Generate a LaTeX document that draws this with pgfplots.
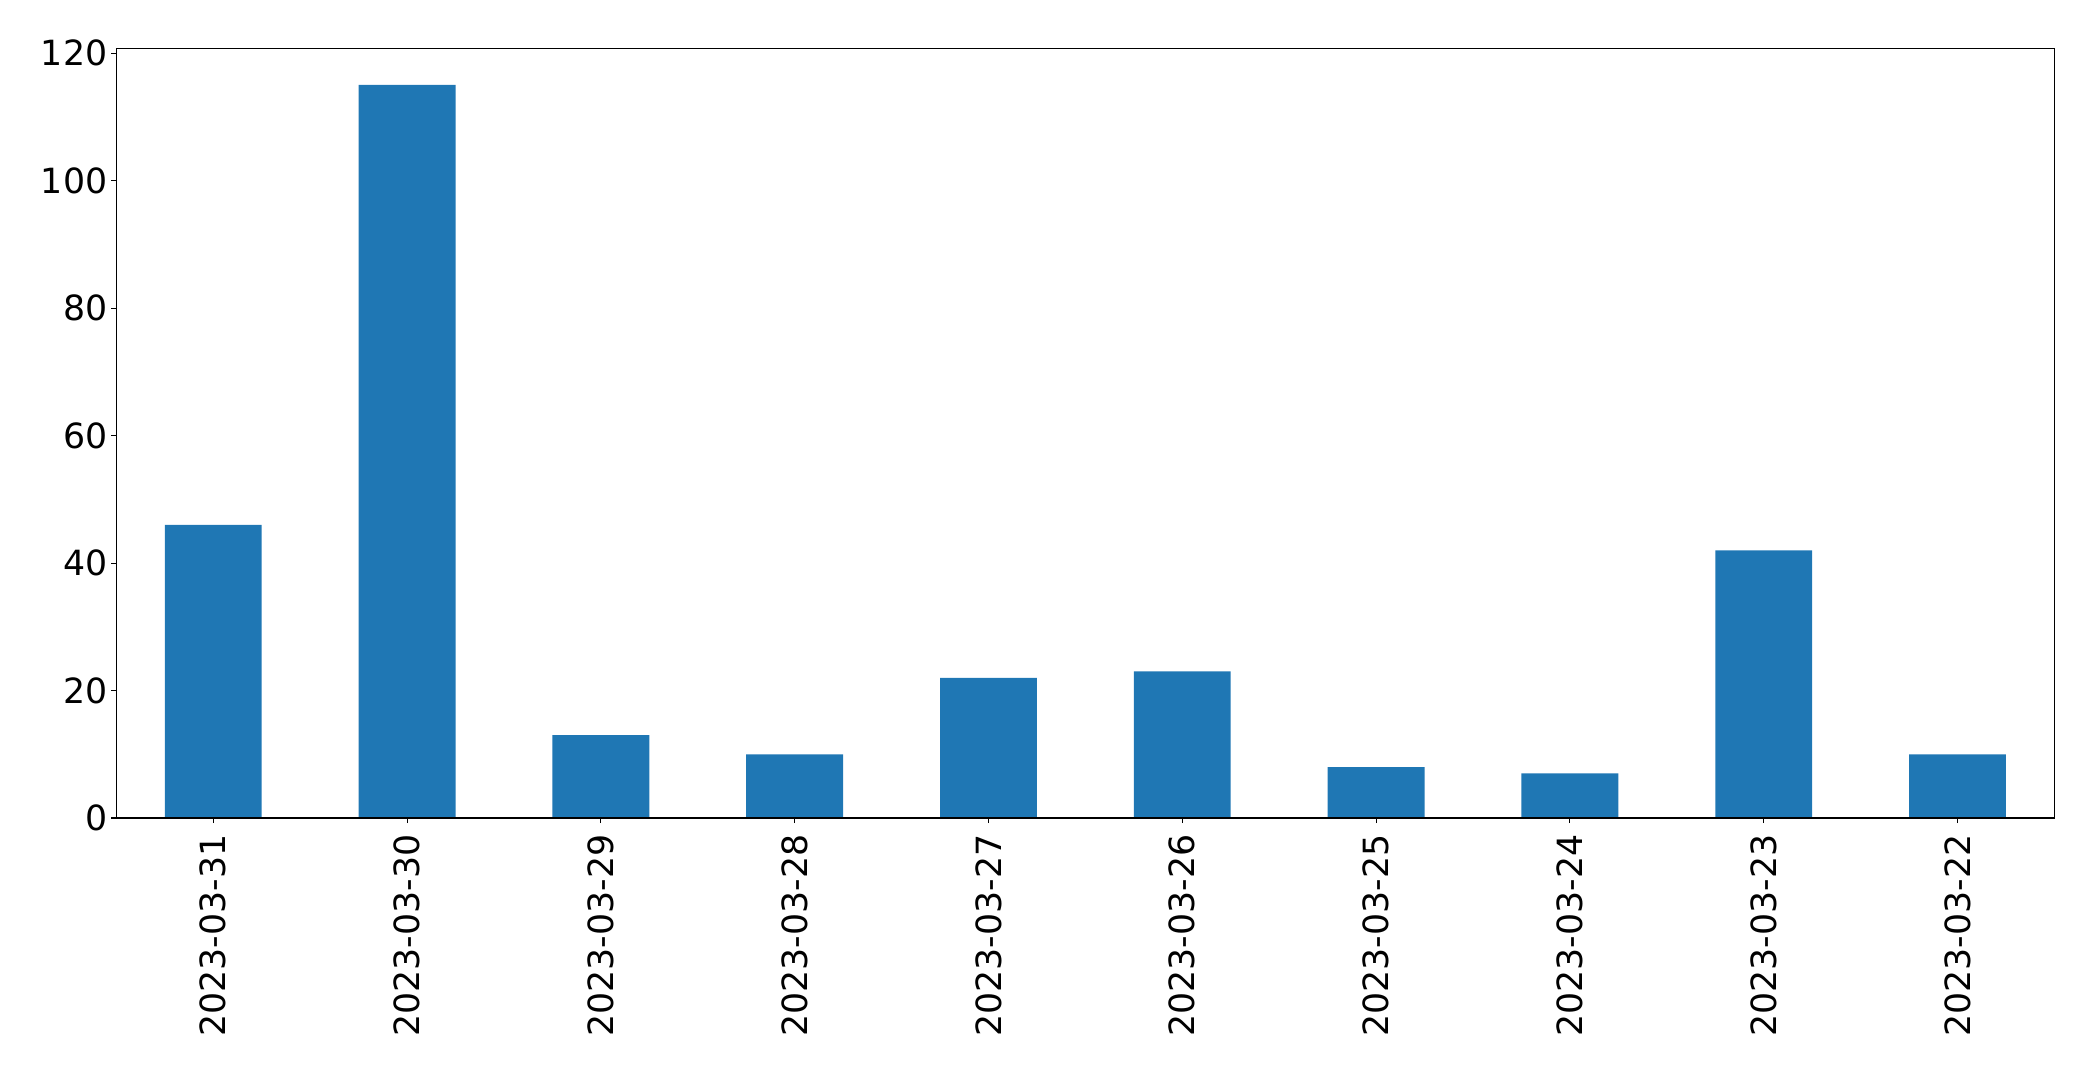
\documentclass[border=0pt]{standalone}
\usepackage{fontspec}
\setmainfont{DejaVu Sans}
\usepackage{pgfplots}
\pgfplotsset{compat=1.18}
\definecolor{mplblue}{HTML}{1F77B4}
\begin{document}
\fontsize{12.5}{15}\selectfont
\begin{tikzpicture}
\begin{axis}[
  name=ax, at={(0,0)}, anchor=south west,
  width=697.7pt, height=277.1pt, scale only axis,
  xmin=-0.5, xmax=9.5, ymin=0, ymax=120.75,
  xtick={0,1,2,3,4,5,6,7,8,9},
  xticklabels={2023-03-31,2023-03-30,2023-03-29,2023-03-28,2023-03-27,2023-03-26,2023-03-25,2023-03-24,2023-03-23,2023-03-22},
  ytick={0,20,40,60,80,100,120},
  tick align=outside, tick pos=left, major tick length=1.8pt,
  axis line style={line width=0.4pt},
  every tick/.style={black, line width=0.4pt},
  xticklabel style={rotate=90, anchor=east, inner sep=0pt},
  yticklabel style={anchor=east, inner sep=0pt},
  xticklabel shift=4pt,
  yticklabel shift=1.3pt,
  /pgf/number format/assume math mode=true,
  axis on top,
  ybar, bar width=0.5,
]
\addplot[fill=mplblue, draw=none] coordinates {
(0,46) (1,115) (2,13) (3,10) (4,22) (5,23) (6,8) (7,7) (8,42) (9,10)};
\end{axis}
\path (ax.south west) ++(-41.9pt,-90.7pt) rectangle ([shift={(13.9pt,17.4pt)}]ax.north east);
\end{tikzpicture}
\end{document}
